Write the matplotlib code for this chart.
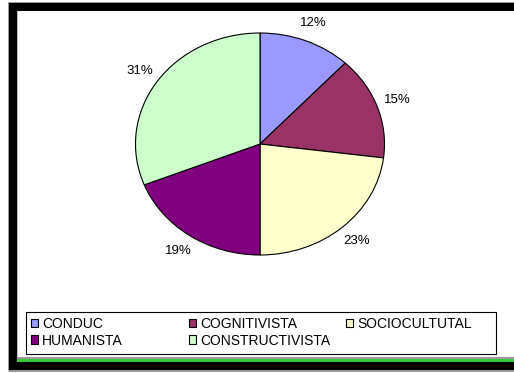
import matplotlib.pyplot as plt
from matplotlib.patches import Rectangle

plt.rcParams['font.family'] = ['Liberation Sans', 'DejaVu Sans']

# enfoques y porcentajes
categorias = ["CONDUC", "COGNITIVISTA", "SOCIOCULTUTAL", "HUMANISTA", "CONSTRUCTIVISTA"]
porcentajes = [12, 15, 23, 19, 31]
colores = ["#9999FF", "#993366", "#FFFFCC", "#800080", "#CCFFCC"]

W, H = 514, 373


def box(x0, y0, x1, y1, color):
    # rectangulo en pixeles (origen arriba a la izquierda)
    return Rectangle((x0 / W, 1 - y1 / H), (x1 - x0) / W, (y1 - y0) / H,
                     transform=fig.transFigure, facecolor=color, edgecolor="none")


fig = plt.figure(figsize=(W / 100, H / 100), dpi=100)
fig.patch.set_facecolor("white")

# marco negro del grafico
fig.patches.append(box(8, 2, W, 3, "#9a9a9a"))
fig.patches.append(box(9, 3, W, 11, "black"))
fig.patches.append(box(8, 3, 9, 371, "#9a9a9a"))
fig.patches.append(box(9, 3, 17, 370, "black"))
fig.patches.append(box(17, 11, 18, 358, "#c0c0c0"))
fig.patches.append(box(17, 357, W, 359, "#9a9a9a"))
fig.patches.append(box(17, 359, W, 362, "#33cc33"))
fig.patches.append(box(9, 362, W, 370, "black"))
fig.patches.append(box(9, 370, W, 372, "#9a9a9a"))

# pastel (eliptico)
ax = fig.add_axes([135.5 / W, 1 - 255 / H, 249 / W, 222 / H])
wedges, _, autotexts = ax.pie(porcentajes, colors=colores, startangle=90, counterclock=False,
                              autopct="%1.0f%%", pctdistance=1.17,
                              wedgeprops=dict(edgecolor="black", linewidth=0.8),
                              textprops=dict(fontsize=9.5, color="black"))
ax.set_aspect("auto")
ax.set_xlim(-1, 1)
ax.set_ylim(-1, 1)

# leyenda: marco y tres columnas
fig.patches.append(Rectangle((26 / W, 1 - 354 / H), 470 / W, 42 / H, transform=fig.transFigure,
                             facecolor="white", edgecolor="black", linewidth=0.8))
columnas = [(0, 3), (1, 4), (2,)]
xcol = [28, 186, 343]
for idx, x in zip(columnas, xcol):
    fig.legend([wedges[i] for i in idx], [categorias[i] for i in idx],
               loc="upper left", bbox_to_anchor=(x / W, 1 - 314 / H),
               frameon=False, fontsize=10, handlelength=0.55, handleheight=0.55,
               handletextpad=0.25, labelspacing=0.2, borderpad=0.2, borderaxespad=0)

fig.savefig("out.png", dpi=100)
